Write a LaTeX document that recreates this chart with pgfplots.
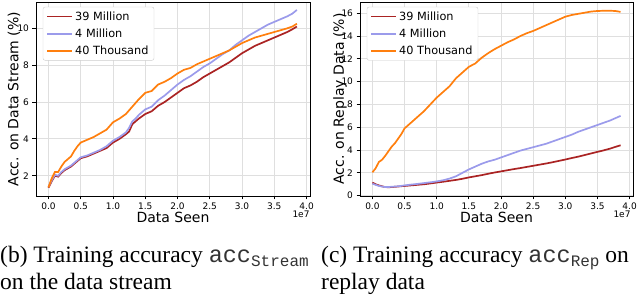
\documentclass[border=0pt]{standalone}
\usepackage{pgfplots}
\pgfplotsset{compat=1.18}
\usepackage{pgfplotstable}
\usepackage{fontspec}
\setmainfont{Liberation Serif}
\newfontfamily\dejavu{DejaVu Sans}
\newfontfamily\cour{Liberation Mono}
\definecolor{cRed}{RGB}{170,35,35}
\definecolor{cBlue}{RGB}{155,155,235}
\definecolor{cOrange}{RGB}{255,127,14}

\pgfplotstableread{
x r b o
0.00 1.35 1.40 1.37
0.05 1.70 1.75 1.85
0.10 2.00 2.05 2.20
0.15 1.95 2.00 2.20
0.20 2.15 2.20 2.50
0.25 2.30 2.35 2.75
0.30 2.40 2.45 2.90
0.35 2.50 2.55 3.05
0.40 2.65 2.70 3.35
0.45 2.80 2.85 3.60
0.50 2.95 3.00 3.80
0.60 3.05 3.10 3.95
0.70 3.20 3.25 4.10
0.80 3.35 3.40 4.30
0.90 3.50 3.60 4.50
1.00 3.80 3.90 4.90
1.10 4.00 4.10 5.10
1.20 4.25 4.35 5.35
1.25 4.40 4.60 5.55
1.30 4.80 4.95 5.75
1.35 4.95 5.10 5.95
1.40 5.10 5.30 6.15
1.50 5.35 5.60 6.50
1.60 5.50 5.75 6.60
1.70 5.80 6.10 6.95
1.80 6.00 6.35 7.10
1.90 6.25 6.65 7.30
2.00 6.50 6.95 7.55
2.10 6.75 7.20 7.75
2.20 6.90 7.40 7.85
2.30 7.10 7.65 8.05
2.40 7.35 7.90 8.20
2.50 7.55 8.10 8.35
2.60 7.75 8.35 8.50
2.70 7.95 8.60 8.65
2.80 8.15 8.80 8.80
2.90 8.40 9.10 9.00
3.00 8.65 9.35 9.20
3.10 8.85 9.60 9.35
3.20 9.05 9.80 9.50
3.30 9.20 10.00 9.60
3.40 9.35 10.20 9.70
3.50 9.50 10.35 9.80
3.60 9.65 10.50 9.90
3.70 9.80 10.65 10.00
3.78 9.95 10.80 10.10
3.85 10.10 11.00 10.25
}\streamdata

\pgfplotstableread{
x r b o
0.00 1.15 1.05 2.05
0.05 1.00 0.95 2.40
0.10 0.90 0.85 2.95
0.15 0.82 0.80 3.15
0.20 0.75 0.75 3.50
0.25 0.74 0.76 3.90
0.30 0.75 0.78 4.30
0.35 0.78 0.80 4.60
0.40 0.80 0.82 5.00
0.45 0.83 0.86 5.40
0.50 0.85 0.90 5.90
0.60 0.90 0.97 6.40
0.70 0.95 1.03 6.90
0.80 1.00 1.10 7.40
0.90 1.07 1.17 8.00
1.00 1.15 1.25 8.60
1.10 1.22 1.35 9.10
1.20 1.30 1.50 9.60
1.30 1.38 1.70 10.30
1.40 1.48 2.00 10.80
1.50 1.60 2.30 11.30
1.60 1.70 2.55 11.60
1.70 1.80 2.80 12.10
1.80 1.92 3.00 12.50
1.90 2.03 3.15 12.85
2.00 2.13 3.35 13.15
2.10 2.23 3.55 13.45
2.20 2.33 3.75 13.70
2.30 2.42 3.95 14.00
2.40 2.52 4.10 14.25
2.50 2.62 4.25 14.45
2.60 2.72 4.40 14.70
2.70 2.82 4.55 14.95
2.80 2.93 4.75 15.20
2.90 3.05 4.95 15.45
3.00 3.17 5.15 15.70
3.10 3.30 5.35 15.85
3.20 3.42 5.60 15.95
3.30 3.56 5.80 16.05
3.40 3.70 6.00 16.15
3.50 3.84 6.20 16.20
3.60 3.98 6.40 16.22
3.70 4.13 6.60 16.22
3.78 4.28 6.80 16.20
3.86 4.42 7.00 16.12
}\replaydata

\pgfplotsset{
  legend image code/.code={\draw[line width=1.7pt,#1] (0pt,0pt) -- (25pt,0pt);},
  mystyle/.style={
    scale only axis, width=274pt, height=194pt,
    axis line style={line width=0.8pt},
    tick align=outside, major tick length=3.5pt,
    tick style={black, line width=0.8pt},
    tick pos=left,
    xmin=-0.193, xmax=4.053,
    xtick={0,0.5,...,4},
    grid=major, major grid style={gray!25, line width=0.8pt},
    xticklabel style={/pgf/number format/.cd, fixed, fixed zerofill, precision=1},
    /pgf/number format/assume math mode=true,
    ticklabel style={font=\dejavu\fontsize{9}{10}\selectfont},
    label style={font=\dejavu\fontsize{14}{16}\selectfont},
    xlabel style={at={(axis description cs:0.5,-0.108)}, anchor=center},
    legend style={at={(0.025,0.975)}, anchor=north west, draw=gray!40,
      rounded corners=2pt, font=\dejavu\fontsize{11.3}{13}\selectfont,
      row sep=3pt, inner xsep=3.5pt, inner ysep=2.5pt},
    legend cell align=left,
    every axis plot/.append style={line width=1.7pt},
  }
}

\begin{document}
\begin{tikzpicture}
\path[use as bounding box] (0,0) rectangle (640pt,299pt);
\begin{axis}[mystyle, name=ax1, at={(36pt,103pt)}, anchor=south west,
  ymin=0.9, ymax=11.43, ytick={2,4,6,8,10},
  xlabel={Data Seen}, ylabel={Acc. on Data Stream (\%)},
  ylabel style={at={(axis description cs:-0.08,0.5)}, anchor=center}]
\addplot[cRed] table[x=x,y=r] {\streamdata};
\addlegendentry{39 Million}
\addplot[cBlue] table[x=x,y=b] {\streamdata};
\addlegendentry{4 Million}
\addplot[cOrange] table[x=x,y=o] {\streamdata};
\addlegendentry{40 Thousand}
\end{axis}
\node[font=\dejavu\fontsize{9}{10}\selectfont, anchor=center] at ([xshift=-9pt,yshift=-18pt]ax1.south east) {1e7};
\begin{axis}[mystyle, name=ax2, at={(360pt,103pt)}, anchor=south west, width=273pt,
  ymin=-0.03, ymax=16.99, ytick={0,2,...,16},
  xlabel={Data Seen}, ylabel={Acc. on Replay Data (\%)},
  ylabel style={at={(axis description cs:-0.073,0.5)}, anchor=center}]
\addplot[cRed] table[x=x,y=r] {\replaydata};
\addlegendentry{39 Million}
\addplot[cBlue] table[x=x,y=b] {\replaydata};
\addlegendentry{4 Million}
\addplot[cOrange] table[x=x,y=o] {\replaydata};
\addlegendentry{40 Thousand}
\end{axis}
\node[font=\dejavu\fontsize{9}{10}\selectfont, anchor=center] at ([xshift=-11pt,yshift=-18pt]ax2.south east) {1e7};
\node[anchor=base west, inner sep=0pt, font=\fontsize{23.5}{27}\selectfont] at (0pt,36pt)
  {(b) Training accuracy {\color{black!80}\cour acc\raisebox{-3.5pt}{\fontsize{16}{18}\selectfont Stream}}};
\node[anchor=base west, inner sep=0pt, font=\fontsize{23.5}{27}\selectfont] at (0pt,9pt)
  {on the data stream};
\node[anchor=base west, inner sep=0pt, font=\fontsize{23.5}{27}\selectfont] at (321pt,36pt)
  {(c) Training accuracy {\color{black!80}\cour acc\raisebox{-3.5pt}{\fontsize{16}{18}\selectfont Rep}} on};
\node[anchor=base west, inner sep=0pt, font=\fontsize{23.5}{27}\selectfont] at (321pt,9pt)
  {replay data};
\end{tikzpicture}
\end{document}
